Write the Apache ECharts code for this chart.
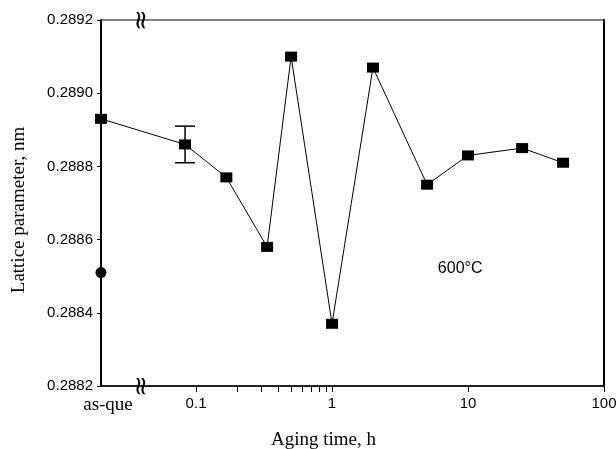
<!DOCTYPE html>
<html>
<head>
<meta charset="utf-8">
<script src="https://cdn.jsdelivr.net/npm/echarts@6/dist/echarts.min.js"></script>
<style>
  html, body { margin: 0; padding: 0; background: #fff; }
  #chart { width: 616px; height: 449px; }
</style>
</head>
<body>
<div id="chart"></div>
<script>
// ---- data ----
const asQuenchedLabel = 'as-que';
const asQuenchedPos = 0.02;          // hours position where the as-quenched point sits on the log axis
const asQuenchedValue = 0.28893;     // square, as-quenched
const asQuenchedCircle = 0.28851;    // filled circle, as-quenched
const agingHours = [0.083, 0.167, 0.333, 0.5, 1, 2, 5, 10, 25, 50];
const latticeValues = [0.28886, 0.28877, 0.28858, 0.28910, 0.28837, 0.28907, 0.28875, 0.28883, 0.28885, 0.28881];
const errorHours = [0.083];
const errorLow = [0.28881];
const errorHigh = [0.28891];
const xMajorTicks = [0.1, 1, 10, 100];
const xMinorTicks = [0.2, 0.3, 0.4, 0.5, 0.6, 0.7, 0.8, 0.9];
const xMaxHours = 100;
const yTicks = [0.2882, 0.2884, 0.2886, 0.2888, 0.2890, 0.2892];
const breakHours = 0.04;
const annotation = '600°C';

const L = Math.log10;
const chart = echarts.init(document.getElementById('chart'), null, { renderer: 'canvas' });

const lineData = [[L(asQuenchedPos), asQuenchedValue]].concat(agingHours.map((h, i) => [L(h), latticeValues[i]]));
const errData = errorHours.map((h, i) => [L(h), errorLow[i], errorHigh[i]]);
const xMin = L(asQuenchedPos);

function fmtX(v) {
  if (Math.abs(v - xMin) < 1e-6) return '{s|' + asQuenchedLabel + '}';
  const p = Math.round(v);
  const val = Math.pow(10, p);
  return String(p < 0 ? val.toFixed(-p) : val);
}

const option = {
  animation: false,
  backgroundColor: '#fff',
  grid: { left: 101, right: 12, top: 20, bottom: 63, show: true, borderColor: '#000', borderWidth: 1,
    containLabel: false, outerBoundsMode: 'none' },
  xAxis: {
    type: 'value', min: xMin, max: L(xMaxHours),
    name: 'Aging time, h', nameLocation: 'middle', nameGap: 45,
    nameTextStyle: { fontFamily: 'Liberation Serif', fontSize: 19, color: '#000', padding: [0, 58, 0, 0] },
    axisLine: { onZero: false, lineStyle: { color: '#000', width: 1.5 } },
    axisTick: { show: true, length: 6, inside: false, lineStyle: { color: '#000', width: 1 },
      customValues: xMajorTicks.concat(xMinorTicks).map(L) },
    axisLabel: { customValues: [xMin].concat(xMajorTicks.map(L)), formatter: fmtX, color: '#000',
      fontFamily: 'Liberation Sans', fontSize: 15, margin: 10, showMaxLabel: true, showMinLabel: true,
      rich: { s: { fontFamily: 'Liberation Serif', fontSize: 19, color: '#000', padding: [0, 0, 0, 14] } } },
    splitLine: { show: false }
  },
  yAxis: [{
    type: 'value', min: yTicks[0], max: yTicks[yTicks.length - 1], interval: 0.0002,
    name: 'Lattice parameter, nm', nameLocation: 'middle', nameGap: 72, nameRotate: 90,
    nameTextStyle: { fontFamily: 'Liberation Serif', fontSize: 19, color: '#000', padding: [0, 14, 0, 0] },
    axisLine: { show: true, onZero: false, lineStyle: { color: '#000', width: 2 } },
    axisTick: { show: true, length: 4, lineStyle: { color: '#000', width: 1 } },
    axisLabel: { formatter: v => v.toFixed(4), color: '#000', fontFamily: 'Liberation Sans', fontSize: 15, margin: 8 },
    splitLine: { show: false }
  }, {
    type: 'value', position: 'right', min: yTicks[0], max: yTicks[yTicks.length - 1],
    axisLine: { show: true, onZero: false, lineStyle: { color: '#000', width: 2 } },
    axisTick: { show: false }, axisLabel: { show: false }, splitLine: { show: false }
  }],
  series: [
    {
      type: 'line', data: lineData, symbol: 'rect', symbolSize: [12, 10],
      itemStyle: { color: '#000', opacity: 1 }, lineStyle: { color: '#000', width: 1 }, z: 3
    },
    {
      type: 'scatter', data: [[xMin, asQuenchedCircle]], symbol: 'circle', symbolSize: 11,
      itemStyle: { color: '#000', opacity: 1 }, z: 4
    },
    {
      type: 'custom', data: errData, z: 2,
      renderItem: function (params, api) {
        const x = api.value(0);
        const lo = api.coord([x, api.value(1)]);
        const hi = api.coord([x, api.value(2)]);
        const w = 10;
        const st = { stroke: '#000', lineWidth: 1.5 };
        return { type: 'group', children: [
          { type: 'line', shape: { x1: lo[0], y1: lo[1], x2: hi[0], y2: hi[1] }, style: st },
          { type: 'line', shape: { x1: lo[0] - w, y1: lo[1], x2: lo[0] + w, y2: lo[1] }, style: st },
          { type: 'line', shape: { x1: hi[0] - w, y1: hi[1], x2: hi[0] + w, y2: hi[1] }, style: st }
        ] };
      }
    }
  ]
};
chart.setOption(option);

// decorations: axis-break marks and temperature annotation
const bx = chart.convertToPixel({ xAxisIndex: 0 }, L(breakHours));
const yTop = chart.convertToPixel({ yAxisIndex: 0 }, yTicks[yTicks.length - 1]);
const yBot = chart.convertToPixel({ yAxisIndex: 0 }, yTicks[0]);
const tx = chart.convertToPixel({ xAxisIndex: 0 }, L(6));
const ty = chart.convertToPixel({ yAxisIndex: 0 }, 0.28852);
const breakStyle = { text: '≈', font: '26px "DejaVu Sans"', fill: '#000', align: 'center', verticalAlign: 'middle' };
chart.setOption({
  graphic: [
    { type: 'text', x: bx, y: yTop, rotation: Math.PI / 2, z: 10, style: breakStyle },
    { type: 'text', x: bx, y: yBot, rotation: Math.PI / 2, z: 10, style: breakStyle },
    { type: 'text', x: tx, y: ty, z: 10,
      style: { text: annotation, font: '16px "Liberation Sans"', fill: '#000', align: 'left', verticalAlign: 'middle' } }
  ]
});
</script>
</body>
</html>
